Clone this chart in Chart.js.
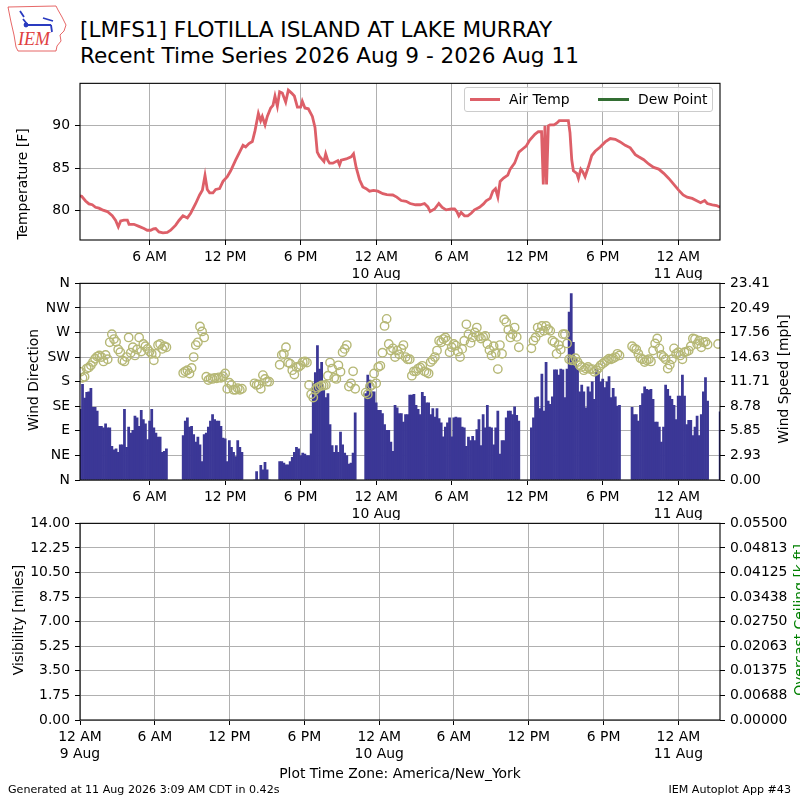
<!DOCTYPE html>
<html>
<head>
<meta charset="utf-8">
<script src="https://cdn.jsdelivr.net/npm/chart.js@4.4.1/dist/chart.umd.min.js"></script>
<style>
html,body{margin:0;padding:0;width:800px;height:800px;overflow:hidden;background:#fff;font-family:"DejaVu Sans",sans-serif;color:#000;}
.abs{position:absolute;white-space:nowrap;}
.panel{position:absolute;left:0;width:800px;}
.ylab{position:absolute;white-space:nowrap;font-size:13.9px;line-height:16.7px;transform:translate(-50%,-50%) rotate(-90deg);}
.t1{font-size:21.6px;line-height:21.6px;}
.tick{font-size:13.9px;line-height:13.9px;}
</style>
</head>
<body>
<svg class="abs" style="left:5px;top:4px" width="64" height="50" viewBox="0 0 64 50">
  <path d="M3,3 L51,2 L53,6 L57,13 L61,21 L59,27 L55,31 L56,37 L52,42 L51,47 L13,47 L11,43 L9,31 L6,18 Z" fill="none" stroke="#e04040" stroke-width="0.8"/>
  <path d="M15,7 L19,13 M18,15 L22,20 M20,21 L46,21 M38,14 L48,17 M46,21 L47,28" stroke="#2a3bc0" stroke-width="1.8" fill="none"/>
  <circle cx="21" cy="21" r="2.4" fill="#2a3bc0"/>
  <text x="13" y="41" font-family="Liberation Serif" font-style="italic" font-size="18" fill="#e04040">IEM</text>
</svg>
<div class="abs t1" style="left:80px;top:18.7px">[LMFS1] FLOTILLA ISLAND AT LAKE MURRAY</div>
<div class="abs t1" style="left:80px;top:45.2px">Recent Time Series 2026 Aug 9 - 2026 Aug 11</div>

<div class="panel" style="top:70px;height:210px"><canvas id="c1" width="800" height="210"></canvas></div>
<div class="panel" style="top:270px;height:250px"><canvas id="c2" width="800" height="250"></canvas></div>
<div class="panel" style="top:510px;height:260px"><canvas id="c3" width="800" height="260"></canvas></div>

<div class="abs" style="left:464px;top:87px;width:249px;height:25px;box-sizing:border-box;border:1px solid #cccccc;border-radius:3px;background:rgba(255,255,255,0.85);">
  <div class="abs" style="left:5px;top:10px;width:30px;height:2.6px;background:rgb(221,95,104)"></div>
  <div class="abs tick" style="left:44px;top:4.5px">Air Temp</div>
  <div class="abs" style="left:133px;top:10px;width:31px;height:2.6px;background:#336e33"></div>
  <div class="abs tick" style="left:173px;top:4.5px">Dew Point</div>
</div>

<div class="ylab" style="left:22px;top:184px">Temperature [F]</div>
<div class="ylab" style="left:33px;top:380px">Wind Direction</div>
<div class="ylab" style="left:18px;top:620px">Visibility [miles]</div>
<div class="ylab" style="left:783px;top:379px">Wind Speed [mph]</div>
<div class="ylab" style="left:799px;top:620px;color:green">Overcast Ceiling [k ft]</div>

<div class="abs tick" style="left:0;width:800px;text-align:center;top:767px">Plot Time Zone: America/New_York</div>
<div class="abs" style="left:8px;top:783.6px;font-size:11.1px;line-height:11.1px">Generated at 11 Aug 2026 3:09 AM CDT in 0.42s</div>
<div class="abs" style="right:9px;top:783.6px;font-size:11.1px;line-height:11.1px">IEM Autoplot App #43</div>

<script>
// ---------------- DATA ----------------
// time axis: hours since 9 Aug 2026 00:00 (America/New_York)
const timeTickHours = [0, 6, 12, 18, 24, 30, 36, 42, 48];
const timeTickLabels = [['12 AM', '9 Aug'], '6 AM', '12 PM', '6 PM', ['12 AM', '10 Aug'], '6 AM', '12 PM', '6 PM', ['12 AM', '11 Aug']];
const topRangeHours = [0.467, 51.32];
const bottomRangeHours = [0, 51.34];

// Air temperature [F]
const tempHours = [
  0.47,0.6,0.91,1.18,1.44,1.7,1.97,2.24,2.64,3.03,
  3.3,3.51,3.7,3.96,4.23,4.36,4.75,5.15,5.55,5.81,
  6.08,6.3,6.48,6.74,7.06,7.4,7.67,8.07,8.33,8.65,
  9.0,9.26,9.66,9.97,10.19,10.4,10.58,10.77,11.03,11.25,
  11.56,11.83,12.17,12.44,12.83,13.15,13.42,13.63,13.89,14.16,
  14.37,14.64,14.82,14.95,15.17,15.35,15.62,15.8,15.96,16.15,
  16.33,16.54,16.81,17.02,17.28,17.5,17.74,18.0,18.13,18.34,
  18.61,18.93,19.14,19.32,19.5,19.67,19.85,19.99,20.15,20.3,
  20.56,20.95,21.09,21.22,21.62,22.01,22.2,22.41,22.68,22.94,
  23.21,23.47,23.79,24.13,24.53,24.85,25.32,25.64,25.99,26.38,
  26.7,27.13,27.5,27.84,28.11,28.29,28.64,28.98,29.25,29.56,
  29.96,30.23,30.41,30.57,30.75,31.02,31.28,31.55,31.81,32.21,
  32.53,32.74,33.06,33.27,33.48,33.67,33.85,34.12,34.46,34.65,
  35.0,35.34,35.66,35.92,36.19,36.61,36.88,37.14,37.28,37.41,
  37.54,37.68,37.81,38.13,38.34,38.55,38.87,39.27,39.4,39.54,
  39.67,39.94,40.07,40.26,40.41,40.6,40.87,41.13,41.4,41.8,
  42.2,42.6,43.0,43.39,43.79,44.19,44.59,44.86,45.26,45.65,
  46.05,46.45,46.85,47.25,47.65,48.05,48.39,48.71,49.11,49.51,
  49.78,50.1,50.31,50.71,51.05,51.32
];
const tempF = [
  81.75,81.7,81.15,80.8,80.7,80.4,80.3,80.1,79.9,79.4,
  78.85,78.1,78.8,78.9,78.9,78.4,78.4,78.15,77.9,77.7,
  77.7,77.85,77.9,77.5,77.4,77.45,77.7,78.3,78.85,79.4,
  79.15,79.7,80.85,81.85,82.4,84.15,82.5,82.1,82.1,82.5,
  82.6,83.45,84.0,84.7,85.95,86.9,87.7,87.5,87.9,88.15,
  89.4,91.45,90.6,91.1,90.1,91.1,92.1,92.4,93.5,92.3,
  94.0,93.85,92.8,94.2,93.85,93.5,92.2,92.2,92.9,92.1,
  92.0,91.1,89.8,86.9,86.4,86.1,85.8,86.7,85.95,85.6,
  85.6,85.9,85.4,85.95,86.1,86.35,86.7,85.1,83.65,82.8,
  82.6,82.3,82.4,82.3,82.0,81.9,81.85,81.6,81.2,81.1,
  80.85,80.7,80.7,80.85,80.45,79.9,80.2,80.85,80.4,80.1,
  80.2,80.2,79.9,79.4,79.8,79.4,79.4,79.7,80.1,80.4,
  80.8,81.15,81.45,82.3,82.6,81.6,83.45,83.85,84.2,84.9,
  85.6,86.9,87.3,87.6,88.3,89.0,89.3,89.3,83.1,90.0,
  83.1,90.0,90.1,90.1,90.3,90.6,90.6,90.6,89.2,86.0,
  84.7,84.4,83.8,84.9,84.6,84.0,85.2,86.5,87.0,87.5,
  88.1,88.5,88.4,88.1,87.7,87.4,86.6,86.35,86.0,85.5,
  85.1,84.9,84.4,83.8,83.1,82.4,81.85,81.6,81.45,81.15,
  80.95,81.2,80.85,80.7,80.6,80.4
];
const tempTicks = [80, 85, 90];
const tempRange = [76.55, 95.0];

// Wind observations every 10 minutes from 9 Aug 00:30
const windStartHour = 0.5;
const windStepHours = 1 / 6;
const windSpeedMph = [
  // 00:30 - 07:20
  8.4,11.4,9.75,10.45,10.5,10.9,8.66,8.66,8.2,6.4,6.4,6.2,6.7,6.2,6.2,4.0,3.6,3.7,3.3,4.2,4.2,
  8.4,3.9,6.3,5.6,5.9,7.6,7.4,6.4,8.3,7.2,6.7,4.8,7.0,8.4,6.2,5.6,5.1,5.1,3.3,3.4,3.7,
  null,null,null,null,null,null,null,
  // 08:40 - 13:20
  5.3,7.0,7.4,6.3,6.4,5.4,4.5,5.1,4.2,2.2,5.4,5.6,6.3,7.0,7.8,7.2,7.0,7.0,6.4,5.0,4.9,2.2,4.7,3.9,3.3,2.8,4.7,3.9,3.3,
  null,null,null,null,null,
  // 14:20 - 15:30
  0,1.0,0,1.75,1.2,2.1,1.2,0,
  null,null,null,null,
  // 16:20 - 22:20
  2.2,2.2,2.0,1.8,1.8,2.2,2.7,3.3,3.9,3.7,2.9,3.2,3.1,2.9,2.9,5.5,11.5,12.8,16.0,13.2,14.0,
  10.9,9.8,10.3,6.6,4.1,3.3,4.1,3.3,5.7,4.2,3.2,2.9,1.9,2.0,3.2,8.0,
  null,null,null,null,
  // 23:10 - 11:20 (10 Aug)
  10.3,12.5,11.9,10.5,10.5,9.2,8.3,8.3,7.9,6.6,5.9,5.9,4.5,3.4,8.9,8.6,7.9,7.9,6.9,7.8,7.8,
  10.1,10.1,10.2,8.9,8.4,7.8,10.45,9.95,9.2,9.2,7.8,8.5,7.5,8.5,7.3,6.8,5.15,6.3,6.8,7.4,5.15,
  7.4,7.5,7.4,7.4,6.3,6.2,4.0,5.1,4.7,5.2,4.7,6.0,7.2,4.1,7.8,6.2,8.9,6.3,6.2,4.2,6.2,8.2,
  3.1,4.7,4.7,7.4,8.2,8.2,7.8,8.7,7.7,7.0,
  null,null,null,null,null,
  // 12:20 - 19:20
  6.2,7.4,9.8,9.9,8.5,12.6,8.2,14.0,9.4,9.0,9.9,13.1,13.1,12.5,13.2,13.1,9.8,13.2,20.0,22.2,16.4,
  14.5,13.1,10.5,11.3,10.5,8.6,11.1,10.5,11.7,9.6,13.2,12.9,11.7,12.0,11.0,11.7,12.3,9.8,10.9,9.9,8.8,8.9,
  null,null,null,null,null,
  // 20:20 - 02:20 (11 Aug)
  8.66,7.8,7.8,7.0,8.9,10.3,11.1,10.8,10.7,10.8,9.6,6.9,6.9,6.3,4.5,6.3,11.3,10.8,10.0,9.6,8.9,
  7.2,10.0,10.0,12.5,10.0,6.6,7.1,7.1,5.3,6.3,7.6,5.3,7.8,10.5,12.2,9.4,
  null,null,null,null,
  // 03:10, 03:20
  null,8.1
];
const windDirDeg = [
  // 00:30 - 07:20
  198,187,189,204,206,210,216,222,226,228,225,217,229,221,252,267,258,253,239,234,219,
  217,225,261,233,243,228,239,261,235,249,245,240,235,231,219,231,247,249,240,245,243,
  null,null,null,null,null,null,null,
  // 08:40 - 13:20
  196,199,201,195,205,225,247,252,281,272,261,189,183,186,185,187,186,188,187,190,195,167,178,174,165,165,168,165,167,
  null,null,null,null,null,
  // 14:20 - 15:30
  177,174,175,167,192,185,180,180,
  null,null,null,null,
  // 16:20 - 22:20
  211,229,231,243,215,213,201,193,207,207,210,216,217,215,174,157,151,165,169,171,173,
  173,174,191,215,204,187,185,210,198,234,240,247,171,177,199,167,
  null,null,null,null,
  // 23:10 - 11:20 (10 Aug)
  160,157,171,174,195,177,207,209,233,282,295,249,237,241,225,237,230,240,247,225,
  221,221,191,199,199,204,206,209,199,197,195,216,220,225,237,255,252,258,261,255,
  234,243,249,246,235,225,240,255,285,267,251,261,270,279,263,259,262,264,249,238,
  228,245,232,203,247,231,294,289,275,261,267,279,262,243,
  null,null,null,null,null,
  // 12:20 - 19:20
  241,255,261,279,270,282,273,282,276,273,255,252,231,247,239,267,267,250,221,219,
  219,223,216,210,207,201,204,207,203,203,198,201,205,210,213,216,219,222,221,223,225,231,228,
  null,null,null,null,null,
  // 20:20 - 02:20 (11 Aug)
  245,241,239,231,223,221,216,219,221,217,237,250,259,241,229,225,221,204,211,221,
  241,231,234,228,221,234,235,237,245,259,258,249,255,243,252,253,248,
  null,null,null,null,
  // 03:10, 03:20
  249,null
];
const dirTicks = [0, 45, 90, 135, 180, 225, 270, 315, 360];
const dirTickLabels = ['N', 'NE', 'E', 'SE', 'S', 'SW', 'W', 'NW', 'N'];
const speedMax = 23.41;
const speedTickLabels = ['0.00', '2.93', '5.85', '8.78', '11.71', '14.63', '17.56', '20.49', '23.41'];

const visMax = 14;
const visTickLabels = ['0.00', '1.75', '3.50', '5.25', '7.00', '8.75', '10.50', '12.25', '14.00'];
const ceilMax = 0.055;
const ceilTickLabels = ['0.00000', '0.00688', '0.01375', '0.02063', '0.02750', '0.03438', '0.04125', '0.04813', '0.05500'];

// ---------------- STYLE / CHARTS ----------------
Chart.defaults.font.family = '"DejaVu Sans", sans-serif';
Chart.defaults.font.size = 13.9;
Chart.defaults.color = '#000';
Chart.defaults.animation = false;

const gridColor = '#b0b0b0';

const framePlugin = {
  id: 'frame',
  afterDraw(chart) {
    const {ctx, chartArea: a} = chart;
    ctx.save();
    ctx.strokeStyle = '#000';
    ctx.lineWidth = 1.1;
    ctx.strokeRect(a.left, a.top, a.right - a.left, a.bottom - a.top);
    ctx.restore();
  }
};

function timeScale(range, height, z) {
  return {
    type: 'linear', min: range[0], max: range[1], offset: false, z: z || 0,
    afterBuildTicks: s => { s.ticks = timeTickHours.filter(h => h >= range[0] && h <= range[1]).map(v => ({value: v})); },
    afterFit: s => { s.height = height; },
    ticks: { autoSkip: false, maxRotation: 0, minRotation: 0, padding: 4,
      callback: v => timeTickLabels[timeTickHours.indexOf(v)] },
    grid: { color: gridColor, lineWidth: 1, tickColor: '#000', tickLength: 5, tickWidth: 1, offset: false },
    border: { display: false }
  };
}

function valueScale(pos, min, max, tickValues, tickLabels, showGrid, z) {
  return {
    type: 'linear', position: pos, min, max, z: z || 0,
    afterBuildTicks: s => { s.ticks = tickValues.map(v => ({value: v})); },
    afterFit: s => { s.width = 80; },
    ticks: { autoSkip: false, padding: 5, callback: (v, i) => tickLabels[i] },
    grid: { color: gridColor, lineWidth: 1, tickColor: '#000', tickLength: 5, tickWidth: 1, drawOnChartArea: showGrid },
    border: { display: false }
  };
}

const evenTicks = (max, n) => Array.from({length: n}, (_, i) => i * max / (n - 1));

// Panel 1: temperature
new Chart(document.getElementById('c1'), {
  type: 'line',
  data: { datasets: [{
    label: 'Air Temp',
    data: tempHours.map((h, i) => ({x: h, y: tempF[i]})),
    borderColor: 'rgb(221,95,104)', borderWidth: 2.8, pointRadius: 0, tension: 0, fill: false
  }]},
  options: {
    responsive: false, maintainAspectRatio: false,
    layout: { padding: { top: 10, right: 80, left: 0, bottom: 0 } },
    plugins: { legend: { display: false }, tooltip: { enabled: false } },
    scales: {
      x: timeScale(topRangeHours, 40),
      y: valueScale('left', tempRange[0], tempRange[1], tempTicks, tempTicks.map(String), true)
    }
  },
  plugins: [framePlugin]
});

// Panel 2: wind direction + speed
const windTimes = windSpeedMph.map((_, i) => windStartHour + i * windStepHours);
new Chart(document.getElementById('c2'), {
  type: 'bar',
  data: { datasets: [
    { type: 'scatter', label: 'Wind Direction', yAxisID: 'y',
      data: windDirDeg.map((d, i) => ({x: windTimes[i], y: d})),
      pointStyle: 'circle', pointRadius: 4.2, borderWidth: 1.4,
      borderColor: 'rgb(182,184,118)', backgroundColor: 'rgba(0,0,0,0)' },
    { type: 'bar', label: 'Wind Speed', yAxisID: 'y2',
      data: windSpeedMph.map((v, i) => ({x: windTimes[i], y: v})),
      backgroundColor: '#3b3796', borderWidth: 0, barPercentage: 1, categoryPercentage: 1 }
  ]},
  options: {
    responsive: false, maintainAspectRatio: false,
    layout: { padding: { top: 10, right: 0, left: 0, bottom: 0 } },
    plugins: { legend: { display: false }, tooltip: { enabled: false } },
    scales: {
      x: timeScale(topRangeHours, 40, 1),
      y: valueScale('left', 0, 360, dirTicks, dirTickLabels, true, 1),
      y2: valueScale('right', 0, speedMax, evenTicks(speedMax, speedTickLabels.length), speedTickLabels, false, 1)
    }
  },
  plugins: [framePlugin]
});

// Panel 3: visibility + ceiling (no data)
new Chart(document.getElementById('c3'), {
  type: 'line',
  data: { datasets: [] },
  options: {
    responsive: false, maintainAspectRatio: false,
    layout: { padding: { top: 10, right: 0, left: 0, bottom: 0 } },
    plugins: { legend: { display: false }, tooltip: { enabled: false } },
    scales: {
      x: timeScale(bottomRangeHours, 50),
      y: valueScale('left', 0, visMax, evenTicks(visMax, visTickLabels.length), visTickLabels, true),
      y2: valueScale('right', 0, ceilMax, evenTicks(ceilMax, ceilTickLabels.length), ceilTickLabels, false)
    }
  },
  plugins: [framePlugin]
});
</script>
</body>
</html>
